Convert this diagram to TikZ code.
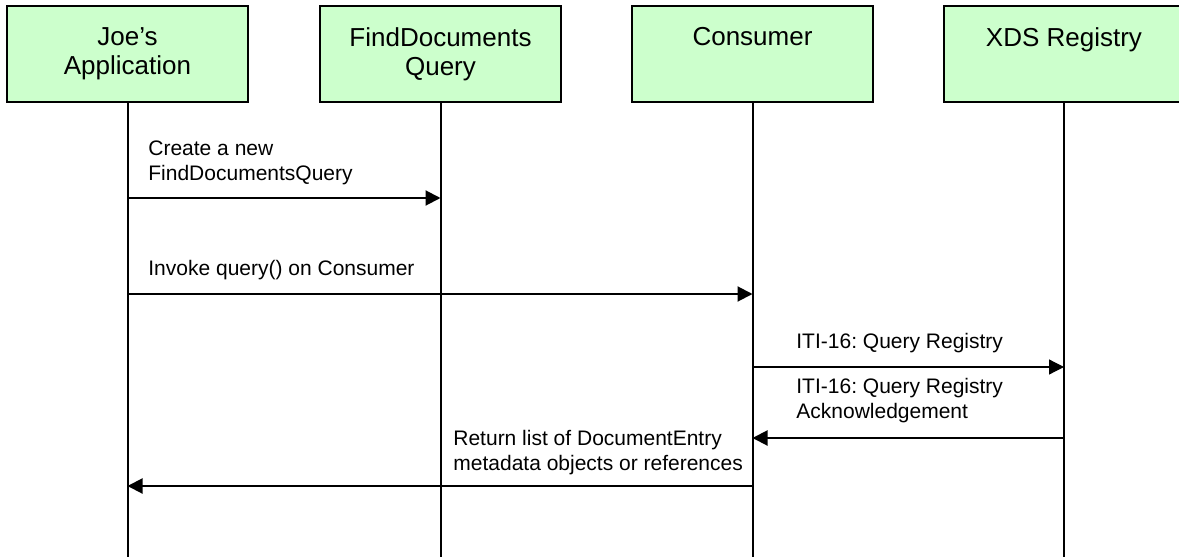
\documentclass[tikz,border=0pt]{standalone}
\usepackage{fontspec}
\setmainfont{Liberation Sans}
\usetikzlibrary{arrows.meta}
\frenchspacing
\definecolor{actorgreen}{HTML}{CCFFCC}
\tikzset{
  actor/.style={draw, fill=actorgreen, line width=1pt, minimum width=120.5pt, minimum height=48pt, align=center, font=\fontsize{13}{14.5}\selectfont},
  lifeline/.style={line width=1pt},
  msg/.style={line width=1pt, -{Triangle[length=7.5pt,width=7.5pt]}},
  msgtext/.style={anchor=north west, inner sep=0pt, align=left, font=\fontsize{10.5}{12.5}\selectfont}
}
\begin{document}
\begin{tikzpicture}[x=0.5pt,y=-0.5pt]
\useasboundingbox (0,0) rectangle (1179,557);
\clip (0,0) rectangle (1179,557);

    \node[actor] (joe) at (127.5,54) {Joe’s\\Application};
    \node[actor] (fdq) at (440.5,54) {FindDocuments\\Query};
    \node[actor] (cons) at (752.5,54) {Consumer\\\phantom{g}};
    \node[actor] (xds) at (1064,54) {XDS Registry\\\phantom{g}};

\coordinate (bottom) at (0,557);
\coordinate (m1) at (0,198);
\coordinate (m2) at (0,294);
\coordinate (m3) at (0,367);
\coordinate (m4) at (0,438);
\coordinate (m5) at (0,486);

\foreach \who in {joe,fdq,cons,xds}
    \draw[lifeline] (\who.south) -- (\who.south |- bottom);

    \node[msgtext] (create) at (148,140) {Create a new\\FindDocumentsQuery};
    \node[msgtext] (invoke) at (148,260) {Invoke query() on Consumer};
    \node[msgtext] (itireq) at (796,333) {ITI-16: Query Registry};
    \node[msgtext] (itiack) at (796,378) {ITI-16: Query Registry\\Acknowledgement};
    \node[msgtext] (result) at (453,430) {Return list of DocumentEntry\\metadata objects or references};

\draw[msg] (joe |- m1) -- (fdq |- m1);
\draw[msg] (joe |- m2) -- (cons |- m2);
\draw[msg, line width=0.6pt] (cons |- m3) -- (xds |- m3);
\draw[msg] (xds |- m4) -- (cons |- m4);
\draw[msg] (cons |- m5) -- (joe |- m5);
\end{tikzpicture}
\end{document}
